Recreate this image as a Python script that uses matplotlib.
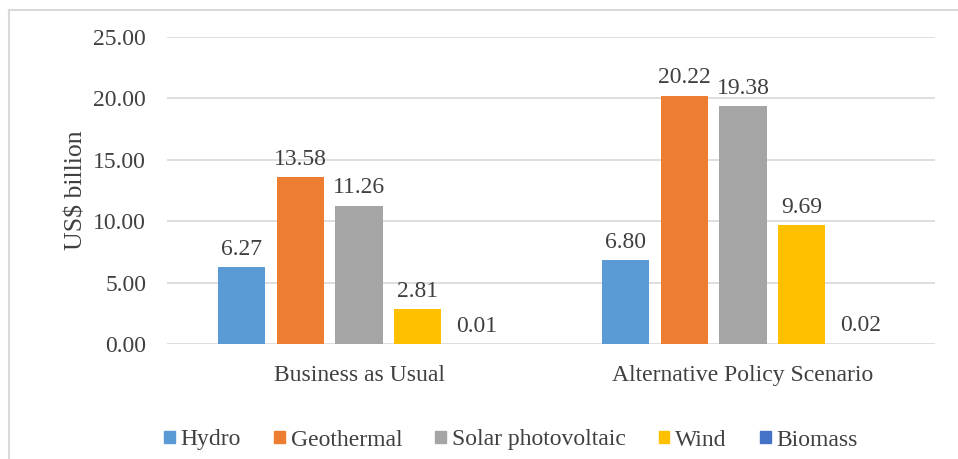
import matplotlib
matplotlib.use("Agg")
import matplotlib.pyplot as plt
from matplotlib.lines import Line2D
import numpy as np

categories = ["Business as Usual", "Alternative Policy Scenario"]
series = ["Hydro", "Geothermal", "Solar photovoltaic", "Wind", "Biomass"]
values = {
    "Hydro": [6.27, 6.80],
    "Geothermal": [13.58, 20.22],
    "Solar photovoltaic": [11.26, 19.38],
    "Wind": [2.81, 9.69],
    "Biomass": [0.01, 0.02],
}
colors = ["#5B9BD5", "#ED7D31", "#A5A5A5", "#FFC000", "#4472C4"]
yticks = [0, 5, 10, 15, 20, 25]

plt.rcParams['font.family'] = ['Liberation Serif', 'DejaVu Serif']
txt = "#404040"
fs = 17

W, H = 958, 459
fig = plt.figure(figsize=(W/100, H/100), dpi=100)
ax = fig.add_axes([167/W, 1-344/H, (935-167)/W, (344-37)/H])

x = np.arange(len(categories))
step = 0.1536
bw = 0.1224
for i, s in enumerate(series):
    pos = x + (i - 2) * step
    ax.bar(pos, values[s], width=bw, color=colors[i], label=s, zorder=3)
    for p, v in zip(pos, values[s]):
        ax.text(p, v + 0.6, f"{v:.2f}", ha="center", va="bottom",
                fontsize=fs, color=txt, zorder=4)

ax.set_xlim(-0.5, 1.5)
ax.set_ylim(0, 25)
ax.set_yticks(yticks)
ax.set_yticklabels([f"{t:.2f}" for t in yticks], fontsize=fs, color=txt)
ax.set_xticks(x)
ax.set_xticklabels(categories, fontsize=fs, color=txt)
ax.tick_params(axis="y", length=0, pad=15)
ax.tick_params(axis="x", length=0, pad=15)
ax.grid(axis="y", color="#D9D9D9", linewidth=1.2, zorder=0)
for sp in ax.spines.values():
    sp.set_visible(False)
ax.set_ylabel("US$ billion", fontsize=18.5, color=txt, labelpad=4)

handles = [plt.Rectangle((0, 0), 1, 1, color=c) for c in colors]
fig.legend(handles, series, loc="center", bbox_to_anchor=(511/W, 1-440/H),
           ncol=5, frameon=False, fontsize=fs, handlelength=0.45, handleheight=0.45,
           handletextpad=0.25, columnspacing=1.4, labelcolor=txt)

# partial chart border (left and top visible)
fig.add_artist(Line2D([8.5/W, 8.5/W], [0, 1-10/H], color="#D9D9D9", lw=1.5, transform=fig.transFigure))
fig.add_artist(Line2D([8.5/W, 1], [1-10/H, 1-10/H], color="#D9D9D9", lw=1.5, transform=fig.transFigure))

fig.savefig("out.png", dpi=100)
